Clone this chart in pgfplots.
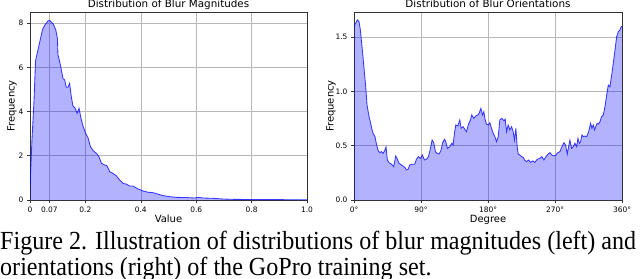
\documentclass[border=0pt]{standalone}
\usepackage{pgfplots}
\pgfplotsset{compat=1.18}
\usepackage{pgfplotstable}
\usepackage{fontspec}
\setmainfont{Liberation Serif}
\newfontfamily\dejavu{DejaVu Sans}

\pgfplotstableread{
x y
0 0.6
0.007 2.7
0.0145 4.5
0.02 6.3
0.029 6.8
0.037 7.25
0.045 7.7
0.053 7.9
0.065 8.1
0.071 8.12
0.083 7.97
0.093 7.7
0.099 7.3
0.101 6.57
0.107 6.26
0.113 5.9
0.119 5.5
0.125 5.43
0.131 5.1
0.137 5.1
0.143 5.28
0.149 4.68
0.155 4.26
0.163 4.15
0.17 3.92
0.177 4.15
0.184 3.7
0.192 3.32
0.201 3.02
0.21 2.8
0.218 2.42
0.228 2.23
0.24 2.11
0.249 1.96
0.258 1.66
0.27 1.58
0.278 1.55
0.288 1.28
0.3 1.2
0.312 1.09
0.324 0.9
0.336 0.75
0.348 0.72
0.36 0.63
0.372 0.63
0.39 0.5
0.408 0.41
0.426 0.35
0.445 0.33
0.463 0.26
0.48 0.2
0.505 0.15
0.529 0.12
0.565 0.11
0.595 0.09
0.607 0.12
0.625 0.09
0.661 0.075
0.698 0.045
0.734 0.03
0.806 0.02
0.914 0.015
1.0 0.01
}\magtable

\pgfplotstableread{
x y
0 1.6
2.2 1.63
4.5 1.66
6.7 1.645
8.5 1.57
10.3 1.445
12.1 1.32
13.9 1.18
15.7 1.045
17.5 0.876
20.2 0.77
22 0.72
23.8 0.66
25.6 0.615
28.2 0.584
30 0.52
32.3 0.46
34.5 0.437
36.8 0.446
39 0.43
41.2 0.455
43 0.49
44.8 0.37
47 0.344
50.2 0.332
53.3 0.307
56 0.406
57.8 0.384
60.5 0.338
63.7 0.323
65.9 0.313
68.6 0.298
70.4 0.277
72.6 0.283
74.9 0.323
78 0.329
81.6 0.329
83.8 0.375
86.5 0.4
89.2 0.384
91.9 0.415
94.6 0.369
97.3 0.375
100 0.4
102.7 0.476
104.9 0.553
107.1 0.529
109.4 0.446
111.6 0.43
114.3 0.424
117 0.461
118.8 0.523
121.5 0.56
123.3 0.538
125.5 0.476
128.7 0.492
131.3 0.523
133.1 0.507
134.9 0.615
136.7 0.692
139.4 0.682
142.1 0.738
143.9 0.661
146.6 0.676
149.3 0.646
151.1 0.63
153.8 0.7
156.4 0.738
158.2 0.784
160.9 0.753
163.6 0.775
166.3 0.784
168.1 0.8
170.4 0.845
172.6 0.784
174.4 0.815
176.2 0.738
178 0.7
180.7 0.692
182.5 0.713
184.7 0.661
187 0.615
189.6 0.578
191.4 0.538
193.7 0.584
195.9 0.738
198.6 0.753
201.3 0.732
203.1 0.745
204.9 0.63
207.1 0.692
209.4 0.646
211.6 0.676
213.8 0.63
215.6 0.553
217.4 0.661
219.2 0.492
220.6 0.424
222.8 0.415
225 0.4
227.3 0.393
229.1 0.369
231.8 0.354
234.5 0.369
237.1 0.347
239.8 0.36
243 0.347
246.1 0.375
249.7 0.384
252.4 0.4
255.1 0.369
257.8 0.4
260.9 0.424
263.2 0.437
265.8 0.415
268.5 0.406
271.2 0.415
273.9 0.437
276.6 0.446
279.3 0.492
282 0.529
284.2 0.507
286.5 0.424
288.3 0.492
290 0.553
292.3 0.476
294.5 0.492
296.8 0.523
299 0.492
300.8 0.569
302.6 0.523
304.4 0.538
306.2 0.6
308 0.584
310.2 0.59
312.5 0.584
315.2 0.63
317.8 0.707
319.6 0.661
321.4 0.692
323.2 0.646
325 0.682
326.8 0.707
328.6 0.7
330.4 0.722
332.6 0.769
334.9 0.784
337.1 0.861
339.4 0.968
341.6 1.06
343.8 1.045
346.1 1.153
348.3 1.26
350.6 1.383
352.8 1.506
355.1 1.552
357.3 1.568
359.1 1.6
360 1.6
}\oritable

\pgfplotsset{
  histo/.style={
    scale only axis, height=188bp,
    axis line style={draw=black!80, line width=0.6bp},
    grid=major, grid style={draw=black!28, line width=0.6bp},
    tick align=outside, major tick length=3bp,
    tick style={draw=black!80, line width=0.6bp},
    xtick pos=lower, ytick pos=left,
    ticklabel style={font=\dejavu\fontsize{7.5}{8}\selectfont},
    /pgf/number format/assume math mode=true,
    label style={font=\dejavu\fontsize{10}{11}\selectfont},
    title style={font=\dejavu\fontsize{10.4}{11}\selectfont, at={(axis description cs:0.5,1)}, anchor=base, yshift=-1bp},
    xlabel style={at={(axis description cs:0.5,0)}, anchor=base, yshift=-22.5bp},
    ymin=0,
  },
  fillst/.style={draw=none, fill=blue, fill opacity=0.3},
  linest/.style={draw=blue, draw opacity=0.75, line width=0.85bp, mark=none},
}

\begin{document}
\begin{tikzpicture}[x=1bp,y=1bp]
\useasboundingbox (0,0) rectangle (640,278);
\clip (0,0) rectangle (640,278);
\begin{axis}[histo, at={(30bp,78bp)}, anchor=south west, width=277bp,
  title={Distribution of Blur Magnitudes}, xlabel={Value}, ylabel={Frequency},
  ylabel style={at={(axis description cs:-0.065,0.5)}, anchor=center},
  xmin=0, xmax=1, ymax=8.5,
  xtick={0,0.07,0.2,0.4,0.6,0.8,1.0}, xticklabels={0,0.07,0.2,0.4,0.6,0.8,1.0},
  ytick={0,2,4,6,8}, yticklabels={0,2,4,6,8}]
\addplot[fillst] table[x=x,y=y]{\magtable} \closedcycle;
\addplot[linest] table[x=x,y=y]{\magtable};
\node[anchor=south west, inner sep=0pt, font=\dejavu\fontsize{5.5}{6}\selectfont] at (axis description cs:0,1.01) {1e7};
\end{axis}
\begin{axis}[histo, at={(354bp,78bp)}, anchor=south west, width=268bp,
  title={Distribution of Blur Orientations}, xlabel={Degree}, ylabel={Frequency},
  ylabel style={at={(axis description cs:-0.086,0.5)}, anchor=center},
  xmin=0, xmax=360, ymax=1.733,
  xtick={0,90,180,270,360}, xticklabels={0°,90°,180°,270°,360°},
  ytick={0,0.5,1,1.5}, yticklabels={0.0,0.5,1.0,1.5}]
\addplot[fillst] table[x=x,y=y]{\oritable} \closedcycle;
\addplot[linest] table[x=x,y=y]{\oritable};
\node[anchor=south west, inner sep=0pt, font=\dejavu\fontsize{5.5}{6}\selectfont] at (axis description cs:0,1.01) {1e8};
\end{axis}
\node[anchor=base west, inner sep=0pt, font=\fontsize{24}{25}\selectfont] at (0,28.5) {\scalebox{1.007}[1.09]{Figure 2. Illustration of distributions of blur magnitudes (left) and}};
\node[anchor=base west, inner sep=0pt, font=\fontsize{24}{25}\selectfont] at (0,3) {\scalebox{1.007}[1.09]{orientations (right) of the GoPro training set.}};
\end{tikzpicture}
\end{document}
